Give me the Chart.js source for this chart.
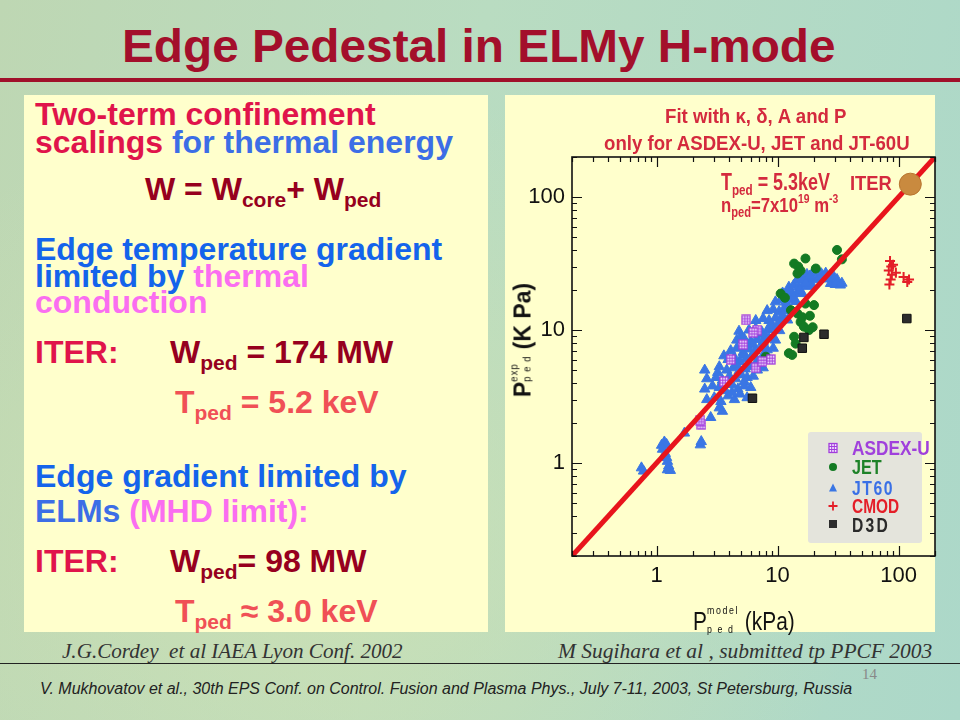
<!DOCTYPE html>
<html><head><meta charset="utf-8">
<title>Edge Pedestal in ELMy H-mode</title>
<script src="https://cdn.jsdelivr.net/npm/chart.js@4.4.1/dist/chart.umd.min.js"></script>
<style>
html,body{margin:0;padding:0}
body{width:960px;height:720px;position:relative;overflow:hidden;
 background:radial-gradient(ellipse at 35% 75%, rgba(214,226,172,0.6), rgba(214,226,172,0) 60%),
            linear-gradient(100deg,#bed7b3 0%,#b9dcc1 45%,#acd8c9 100%);
 font-family:'Liberation Sans',Arial,sans-serif}
.abs{position:absolute;white-space:nowrap;line-height:1}
.L{left:35px;font-weight:bold;font-size:32px}
.sb{font-size:21px;vertical-align:-7px}
.panel{position:absolute;background:#ffffcc}
.stk{display:inline-block;vertical-align:-3px}
.stk span{display:block}
.cr{color:#e0144b}.bl{color:#3c6ee6}.bl2{color:#1464eb}.pk{color:#fa6ef0}.dr{color:#96001e}.sa{color:#f05056}
.ct{color:#d42a3e;font-weight:bold}
.lg{font-size:21px;font-weight:bold}
</style></head>
<body>
<div id="title" class="abs" style="left:122px;top:23px;font-size:46px;font-weight:bold;color:#a30f2b">Edge Pedestal in ELMy H-mode</div>
<div class="abs" style="left:0;top:78px;width:960px;height:4px;background:#a0102a"></div>

<div class="panel" style="left:24px;top:95px;width:464px;height:537px"></div>
<div class="panel" style="left:505px;top:95px;width:430px;height:537px"></div>

<!-- left panel text -->
<div class="abs L cr" style="top:98px">Two-term confinement</div>
<div class="abs L" style="top:126px"><span class="cr">scalings</span> <span class="bl">for thermal energy</span></div>
<div class="abs dr" style="left:145px;top:173px;font-size:32px;font-weight:bold">W = W<span class="sb">core</span>+ W<span class="sb">ped</span></div>
<div class="abs L bl2" style="top:233px">Edge temperature gradient</div>
<div class="abs L" style="top:259.5px"><span class="bl2">limited by</span> <span class="pk">thermal</span></div>
<div class="abs L pk" style="top:286px">conduction</div>
<div class="abs L cr" style="top:336px">ITER:</div>
<div class="abs L dr" style="left:170px;top:336px">W<span class="sb">ped</span> = 174 MW</div>
<div class="abs L sa" style="left:175px;top:386px">T<span class="sb">ped</span> = 5.2 keV</div>
<div class="abs L bl2" style="top:459.5px">Edge gradient limited by</div>
<div class="abs L" style="top:494.5px"><span class="bl">ELMs</span> <span class="pk">(MHD limit):</span></div>
<div class="abs L cr" style="top:544.5px">ITER:</div>
<div class="abs L dr" style="left:170px;top:544.5px">W<span class="sb">ped</span>= 98 MW</div>
<div class="abs L sa" style="left:175px;top:594.5px">T<span class="sb">ped</span> ≈ 3.0 keV</div>

<canvas id="c" width="442" height="537" style="position:absolute;left:505px;top:95px;width:442px;height:537px"></canvas>

<!-- chart overlay text -->
<div id="ct1" class="abs ct" style="left:665px;top:105px;font-size:21px">Fit with κ, δ, A and P</div>
<div id="ct2" class="abs ct" style="left:604px;top:132px;font-size:21px">only for ASDEX-U, JET and JT-60U</div>
<div id="an1" class="abs ct" style="left:721px;top:170.5px;font-size:23px">T<span style="font-size:15px;vertical-align:-5px">ped</span> = 5.3keV</div>
<div id="an2" class="abs ct" style="left:721px;top:192px;font-size:21px">n<span style="font-size:14px;vertical-align:-5px">ped</span>=7x10<span style="font-size:13px;vertical-align:9px">19</span> m<span style="font-size:13px;vertical-align:9px">-3</span></div>
<div id="an3" class="abs ct" style="left:850px;top:172px;font-size:21px">ITER</div>

<div id="ytitle" class="abs" style="left:521px;top:340px;font-size:24px;font-weight:bold;color:#111">P<span class="stk" style="font-size:10px;line-height:13px;vertical-align:0;font-weight:normal;letter-spacing:1px"><span>exp</span><span>p e d</span></span> (K Pa)</div>
<div id="xtitle" class="abs" style="left:693px;top:601px;font-size:26px;color:#111">P<span class="stk" style="font-size:11px;line-height:19px;letter-spacing:2px"><span>model</span><span>p e d</span></span> (kPa)</div>

<!-- legend -->
<div class="abs" style="left:808px;top:432px;width:114px;height:111px;background:#e4e4dc;border-radius:3px"></div>
<svg style="position:absolute;left:808px;top:432px" width="114" height="111">
  <rect x="21" y="11.5" width="8" height="9" fill="#f3e6ff" stroke="#a23cdc" stroke-width="1.3"/>
  <path d="M23.7 11.5V20.5M26.3 11.5V20.5M21 14.5H29M21 17.5H29" stroke="#a23cdc" stroke-width="1"/>
  <circle cx="25" cy="35" r="4" fill="#137a23"/>
  <polygon points="25,51.5 29,59.5 21,59.5" fill="#3a76e4"/>
  <path d="M25 69.5V78.5M20.5 74H29.5" stroke="#e41e28" stroke-width="1.8"/>
  <rect x="21" y="88" width="8" height="8" fill="#2c2c2c"/>
</svg>
<div id="lg1" class="abs lg" style="left:852px;top:437px;color:#a040dc">ASDEX-U</div>
<div id="lg2" class="abs lg" style="left:852px;top:456px;color:#1e8228">JET</div>
<div id="lg3" class="abs lg" style="left:852px;top:477px;color:#3a70e6;letter-spacing:2px">JT60</div>
<div id="lg4" class="abs lg" style="left:852px;top:495px;color:#e41e28">CMOD</div>
<div id="lg5" class="abs lg" style="left:852px;top:514px;color:#2a2a2a;letter-spacing:3px">D3D</div>

<!-- footer -->
<div id="cite1" class="abs" style="left:62px;top:641px;font-family:'Liberation Serif','Times New Roman',serif;font-style:italic;font-size:20px;color:#333">J.G.Cordey&nbsp; et al IAEA Lyon Conf. 2002</div>
<div id="cite2" class="abs" style="left:558px;top:641px;font-family:'Liberation Serif','Times New Roman',serif;font-style:italic;font-size:20px;color:#333">M Sugihara et al , submitted tp PPCF 2003</div>
<div class="abs" style="left:0;top:663px;width:960px;height:1px;background:#222"></div>
<div class="abs" style="left:862px;top:667px;font-family:'Liberation Serif',serif;font-size:15px;color:#888">14</div>
<div id="foot" class="abs" style="left:40px;top:681px;font-style:italic;font-size:16px;color:#222">V. Mukhovatov et al., 30th EPS Conf. on Control. Fusion and Plasma Phys., July 7-11, 2003, St Petersburg, Russia</div>

<script>
// ---- axis ticks ----
const majorTicks = [1, 10, 100];
const tickValues = [0.2,0.3,0.4,0.5,0.6,0.7,0.8,0.9,1,2,3,4,5,6,7,8,9,10,20,30,40,50,60,70,80,90,100,200];
const axisMin = 0.2, axisMax = 200;

// ---- data (P_ped model, P_ped exp) in kPa ----
const jt60X = [0.75,0.78,1.10,1.16,1.21,1.12,1.18,1.21,1.23,1.26,1.30,1.23,1.70,2.30,2.34,
  2.8,3.5,3.3,2.6,3.0,3.4,3.9,4.4,4.9,5.6,2.5,2.9,3.3,3.7,4.2,4.7,5.3,6.0,
  2.6,3.1,3.5,4.0,4.5,5.0,5.6,6.3,2.5,3.3,3.8,4.3,4.8,5.4,6.0,6.8,7.6,
  3.9,4.4,4.9,5.5,6.1,6.8,7.5,8.5,4.1,4.6,5.2,5.8,6.5,7.3,8.2,9.2,
  4.6,5.3,6.0,6.8,7.6,8.5,9.6,4.8,5.8,6.6,7.4,8.3,9.3,10.4,
  6.6,7.6,8.5,9.6,10.8,12.1,8.2,9.2,10.3,11.3,12.5,9.6,10.6,11.7,12.8,14.2,
  11.0,12.1,13.3,14.6,16.0,12.4,13.6,14.9,16.4,17.8,19.3,
  14.5,16.0,17.6,19.5,21.2,24.0,27.4,17.5,19.5,21.3,23.0,25.0,27.0,29.2,31.0,30.0,33.0,34.0,
  3.2,4.6,5.2,6.3,7.0,8.0,8.9,10.0,11.0,12.0,13.5,15.2,17.0,18.5,22.5,26.0,5.0,3.6,4.2,5.3];
const jt60Y = [0.92,0.87,1.36,1.44,1.38,1.27,1.18,1.10,1.03,0.95,0.88,0.89,1.68,1.37,1.45,
  2.2,2.45,2.6,3.0,3.1,2.9,3.2,3.0,3.3,3.1,3.6,3.8,3.7,3.5,3.9,3.6,3.8,3.7,
  4.3,4.4,4.2,4.5,4.3,4.6,4.4,4.5,5.0,5.3,5.0,5.2,4.9,5.1,5.3,5.0,5.2,
  6.0,6.2,5.8,6.1,6.4,5.9,6.3,6.0,7.0,7.3,6.8,7.2,7.0,7.4,7.1,7.3,
  8.4,8.6,8.2,8.5,8.2,8.7,8.4,9.8,10.0,10.3,9.7,10.1,10.4,9.9,
  11.8,12.2,11.8,12.3,12.0,11.9,14.0,14.3,13.8,14.4,14.0,16.3,16.8,16.2,16.9,16.4,
  19.0,19.4,18.7,19.2,18.8,21.0,21.8,21.2,21.9,21.3,21.6,
  23.8,24.4,23.6,24.5,23.9,24.2,22.4,26.2,27.0,28.2,26.5,26.8,25.6,25.1,24.0,22.0,21.8,22.5,
  4.8,5.5,6.5,7.8,9.2,9.0,11.0,11.0,13.0,15.5,17.5,20.0,22.5,25.5,25.2,24.5,9.0,6.4,3.4,4.1];
const jetX = [31,34,13.7,14.8,17,15.5,20.7,14.6,10.6,11.5,20,17,12.9,14.6,15.5,16.5,18.2,19.5,13.7,12.4,13.2,14.1,8,16,18.5];
const jetY = [40,34,31.6,30,34.5,28,29,26.6,18.8,17.5,15.4,15.8,14.1,13.3,11.5,10.6,10,10.5,8.9,6.7,6.5,7.9,6.3,12.5,12.8];
const asdexX = [5.5,6.8,6.3,5.2,4.1,3.6,6.6,7.5,8.8,2.35,2.3];
const asdexY = [11.9,10,9.6,7.8,6.0,4.1,5.2,5.8,6.0,1.95,2.1];
const cmodX = [85,87,83,90,88,84,86,110,118,122,95];
const cmodY = [33,30,28,31,26,22,24,25,23,24,27];
const d3dX = [6.2,16.5,16,24.2,117];
const d3dY = [3.07,8.8,7.3,9.3,12.2];
const iterX = [125];
const iterY = [125];
const fitX = [0.2, 200];
const fitY = [0.2, 200];

function toPoints(xs, ys){ return xs.map((v,i)=>({x:v, y:ys[i]})); }

// ASDEX-U marker: square with grid
const asdexImg = document.createElement('canvas');
asdexImg.width = 10; asdexImg.height = 11;
(function(){
  const g = asdexImg.getContext('2d');
  g.fillStyle = '#f3e6ff'; g.fillRect(1,1,8,9);
  g.strokeStyle = '#a23cdc'; g.lineWidth = 1.3; g.strokeRect(1,1,8,9);
  g.lineWidth = 1; g.beginPath();
  g.moveTo(3.8,1); g.lineTo(3.8,10); g.moveTo(6.3,1); g.lineTo(6.3,10);
  g.moveTo(1,4.2); g.lineTo(9,4.2); g.moveTo(1,7); g.lineTo(9,7); g.stroke();
})();

const frameTicks = {
  id: 'frameTicks',
  afterDraw(chart){
    const {ctx, chartArea: a, scales: {x, y}} = chart;
    ctx.save();
    ctx.strokeStyle = '#111';
    ctx.lineWidth = 1.2;
    ctx.beginPath();
    x.ticks.forEach(t => {
      const p = Math.round(x.getPixelForValue(t.value)) + 0.5;
      const len = majorTicks.includes(t.value) ? 10 : 5;
      ctx.moveTo(p, a.bottom); ctx.lineTo(p, a.bottom - len);
      ctx.moveTo(p, a.top); ctx.lineTo(p, a.top + len);
    });
    y.ticks.forEach(t => {
      const p = Math.round(y.getPixelForValue(t.value)) + 0.5;
      const len = majorTicks.includes(t.value) ? 10 : 5;
      ctx.moveTo(a.left, p); ctx.lineTo(a.left + len, p);
      ctx.moveTo(a.right, p); ctx.lineTo(a.right - len, p);
    });
    ctx.stroke();
    ctx.lineWidth = 1.6;
    ctx.strokeRect(a.left, a.top, a.right - a.left, a.bottom - a.top);
    ctx.restore();
  }
};

function logAxis(pos, fitFn){
  return {
    type: 'logarithmic', position: pos, min: axisMin, max: axisMax,
    afterBuildTicks: s => { s.ticks = tickValues.map(v => ({value: v, major: majorTicks.includes(v)})); },
    afterFit: fitFn,
    ticks: { autoSkip: false, maxRotation: 0, minRotation: 0, padding: 7, color: '#111',
             font: { family: "'Liberation Sans', Arial, sans-serif", size: 22 },
             callback: v => majorTicks.includes(v) ? String(v) : '' },
    grid: { display: false, drawTicks: false },
    border: { display: false }
  };
}

new Chart(document.getElementById('c'), {
  type: 'scatter',
  data: { datasets: [
    { label: 'ITER', data: toPoints(iterX, iterY), pointStyle: 'circle', pointRadius: 11,
      backgroundColor: '#c98a3f', borderColor: '#b8752f', borderWidth: 1, order: 0 },
    { label: 'Fit', type: 'line', data: toPoints(fitX, fitY), showLine: true, borderColor: '#e8141c',
      borderWidth: 5, pointRadius: 0, fill: false, order: 1 },
    { label: 'CMOD', data: toPoints(cmodX, cmodY), pointStyle: 'cross', pointRadius: 5,
      borderColor: '#e41e28', backgroundColor: '#e41e28', borderWidth: 2, order: 2 },
    { label: 'D3D', data: toPoints(d3dX, d3dY), pointStyle: 'rect', pointRadius: 6,
      backgroundColor: '#2c2c2c', borderColor: '#111', borderWidth: 1, order: 2 },
    { label: 'ASDEX-U', data: toPoints(asdexX, asdexY), pointStyle: asdexImg, pointRadius: 5, order: 2 },
    { label: 'JET', data: toPoints(jetX, jetY), pointStyle: 'circle', pointRadius: 4.5,
      backgroundColor: '#137a23', borderColor: '#137a23', borderWidth: 1, order: 3 },
    { label: 'JT60', data: toPoints(jt60X, jt60Y), pointStyle: 'triangle', pointRadius: 6,
      backgroundColor: '#3a76e4', borderColor: '#3a76e4', borderWidth: 1, order: 4 }
  ]},
  options: {
    responsive: false, animation: false, events: [],
    layout: { padding: { top: 62, right: 0, left: 0, bottom: 0 } },
    plugins: { legend: { display: false }, tooltip: { enabled: false }, title: { display: false } },
    scales: {
      x: logAxis('bottom', s => { s.height = 76; }),
      y: logAxis('left', s => { s.width = 67; })
    }
  },
  plugins: [frameTicks]
});

function fitWidth(id, w, pre){
  const el = document.getElementById(id);
  const r = el.offsetWidth;
  if (pre) {
    el.style.transform = pre + ' scaleX(' + (w / r) + ')';
  } else {
    el.style.transformOrigin = '0 0';
    el.style.transform = 'scaleX(' + (w / r) + ')';
  }
}
fitWidth('title', 714);
fitWidth('ct1', 182);
fitWidth('ct2', 306);
fitWidth('an1', 109);
fitWidth('an2', 117);
fitWidth('an3', 42);
fitWidth('lg1', 78);
fitWidth('lg2', 30);
fitWidth('lg3', 42);
fitWidth('lg4', 47);
fitWidth('lg5', 38);
fitWidth('xtitle', 102);
fitWidth('ytitle', 114, 'translate(-50%,-50%) rotate(-90deg)');
fitWidth('cite1', 341);
fitWidth('cite2', 374);
fitWidth('foot', 812);
</script>
</body></html>
